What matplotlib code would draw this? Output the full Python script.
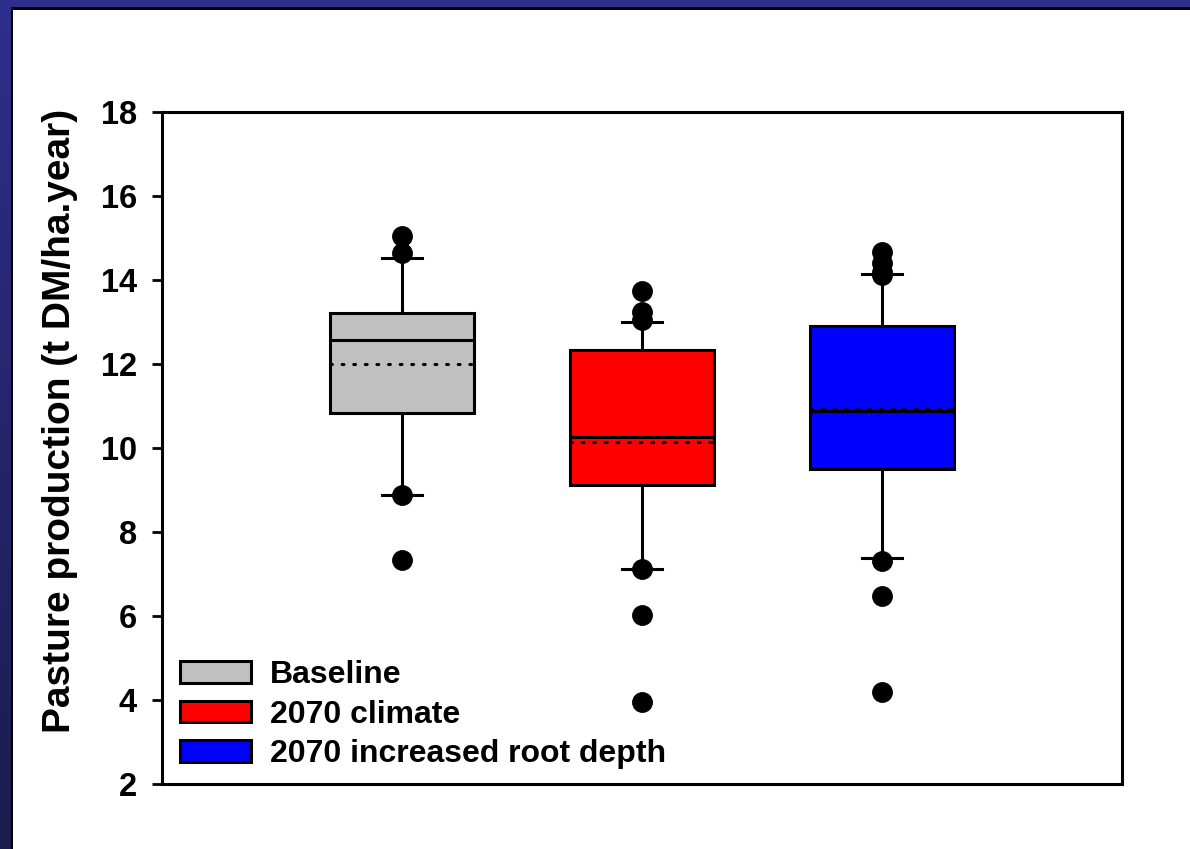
import numpy as np
import matplotlib
matplotlib.use("Agg")
import matplotlib.pyplot as plt
from matplotlib.patches import Rectangle, Patch

# Box statistics (t DM/ha.year)
categories = ["Baseline", "2070 climate", "2070 increased root depth"]
q1 = [10.84, 9.13, 9.51]
medians = [12.58, 10.27, 10.87]
q3 = [13.22, 12.34, 12.91]
whis_lo = [8.87, 7.13, 7.37]
whis_hi = [14.53, 13.01, 14.15]
means = [12.00, 10.15, 10.94]
outliers = [
    [15.05, 14.65, 8.87, 7.33],
    [13.74, 13.24, 13.05, 7.13, 6.02, 3.95],
    [14.67, 14.40, 14.20, 14.12, 7.30, 6.47, 4.19],
]
colors = ["#c0c0c0", "#ff0000", "#0000ff"]
yticks = [2, 4, 6, 8, 10, 12, 14, 16, 18]

plt.rcParams["font.family"] = ["Liberation Sans", "DejaVu Sans"]
plt.rcParams["font.weight"] = "bold"

W, H = 1190, 849
fig = plt.figure(figsize=(W / 100, H / 100), dpi=100)

# slide-like blue frame with a vertical gradient
bg = fig.add_axes([0, 0, 1, 1], zorder=-10)
grad = np.linspace(0, 1, 256).reshape(-1, 1)
top_c = np.array([46, 46, 140]) / 255
bot_c = np.array([28, 28, 78]) / 255
img = top_c[None, None, :] * (1 - grad[:, :, None]) + bot_c[None, None, :] * grad[:, :, None]
bg.imshow(img, aspect="auto", extent=[0, 1, 0, 1])
bg.set_xlim(0, 1)
bg.set_ylim(0, 1)
bg.axis("off")
bg.add_patch(Rectangle((11 / W, 0), 1, 1 - 7 / H, facecolor="black", edgecolor="none"))
bg.add_patch(Rectangle((13 / W, 0), 1, 1 - 10 / H, facecolor="white", edgecolor="none"))

ax = fig.add_axes([162 / W, 1 - 784 / H, 960 / W, 672 / H])

stats = []
for i in range(len(categories)):
    stats.append({
        "label": categories[i],
        "q1": q1[i], "med": medians[i], "q3": q3[i],
        "whislo": whis_lo[i], "whishi": whis_hi[i],
        "mean": means[i], "fliers": outliers[i],
    })

bp = ax.bxp(
    stats, positions=[1, 2, 3], widths=0.6, capwidths=0.17,
    patch_artist=True, showmeans=True, meanline=True,
    boxprops=dict(linewidth=2.2, edgecolor="black"),
    medianprops=dict(color="black", linewidth=2.2),
    meanprops=dict(color="black", linewidth=2.2, linestyle=(0, (0.6, 3.2)),
                   dash_capstyle="round"),
    whiskerprops=dict(color="black", linewidth=2.2),
    capprops=dict(color="black", linewidth=2.2),
    flierprops=dict(marker="o", markerfacecolor="black", markeredgecolor="black",
                    markersize=14),
)
for patch, c in zip(bp["boxes"], colors):
    patch.set_facecolor(c)

ax.set_xlim(0, 4)
ax.set_ylim(2, 18)
ax.set_yticks(yticks)
ax.set_yticklabels([str(t) for t in yticks], fontsize=23.5, fontweight="bold")
ax.set_xticks([])
ax.tick_params(axis="y", direction="out", length=7, width=2, pad=11)
for sp in ax.spines.values():
    sp.set_linewidth(2.2)

ax.set_ylabel("Pasture production (t DM/ha.year)", fontsize=28, fontweight="bold")
ax.yaxis.set_label_coords(-0.087, 0.54)

handles = [Patch(facecolor=c, edgecolor="black", linewidth=2.2) for c in colors]
ax.legend(handles, categories, loc="lower left", bbox_to_anchor=(0.019, 0.022),
          frameon=False, borderpad=0, borderaxespad=0,
          handlelength=2.22, handleheight=0.66, labelspacing=0.3, handletextpad=0.6,
          prop=dict(size=23, weight="bold"))

fig.savefig("out.png", dpi=100)
